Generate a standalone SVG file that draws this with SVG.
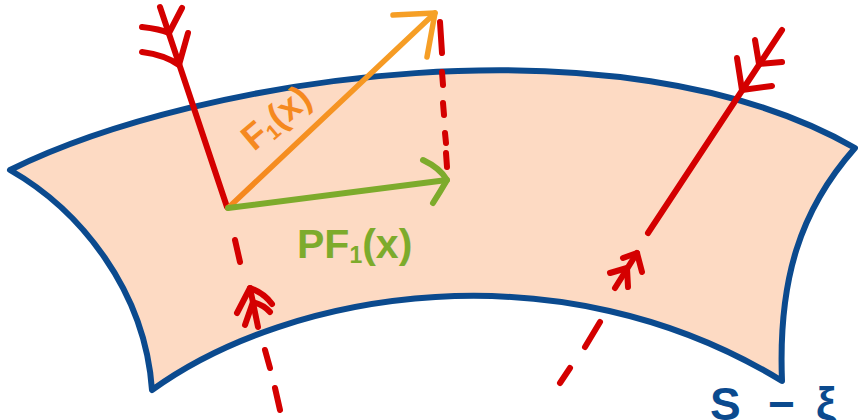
<svg xmlns="http://www.w3.org/2000/svg" width="858" height="420" viewBox="0 0 858 420">
  <defs>
    <linearGradient id="orangeGrad" x1="228" y1="208" x2="435" y2="13" gradientUnits="userSpaceOnUse">
      <stop offset="0" stop-color="#F5861E"/>
      <stop offset="1" stop-color="#F6A126"/>
    </linearGradient>
  </defs>
  <style>
    .red { fill: none; stroke: #D40000; stroke-width: 6; stroke-linecap: round; stroke-linejoin: round; }
    .green { fill: none; stroke: #7DAB2C; stroke-width: 6; stroke-linecap: round; stroke-linejoin: round; }
    .orange { fill: none; stroke: url(#orangeGrad); stroke-width: 5.5; stroke-linecap: round; stroke-linejoin: round; }
    .lbl { font-family: "Liberation Sans", Arial, sans-serif; font-weight: bold; }
  </style>

  <rect width="858" height="420" fill="#FFFFFF"/>

  <g id="surface">
    <path d="M10,170 C200,76 620,13 855,148 C800,210 778,280 782,381 C560,245 290,290 152,390 C145,290 80,210 10,170 Z"
          fill="#FDDAC3" stroke="#0B4A8E" stroke-width="6" stroke-linejoin="round"/>
  </g>

  <g id="ray-left">
    <path class="red" d="M227,207 L160,7"/>
    <path class="red" d="M142,52 Q165,55 179,65 L188,33"/>
    <path class="red" d="M142,27 Q160,29 169,33 L182,8"/>
    <path class="red" d="M235,240 L240,262"/>
    <path class="red" d="M250,288 L258,327"/>
    <path class="red" d="M237,313 L250,288 Q264,293 272,304"/>
    <path class="red" d="M245,325 L253,302 Q264,305 270,312"/>
    <path class="red" d="M265,350 L270,368"/>
    <path class="red" d="M275,388 L280,410"/>
  </g>

  <g id="ray-right">
    <path class="red" d="M648,233 L782,30"/>
    <path class="red" d="M737,58 L742,90 L772,86"/>
    <path class="red" d="M755,40 L759,64 L782,62"/>
    <path class="red" d="M615,288 L637,253"/>
    <path class="red" d="M623,258 L637,253 L642,272"/>
    <path class="red" d="M610,273 L627,268 L628,287"/>
    <path class="red" d="M600,322 L585,347"/>
    <path class="red" d="M570,368 L560,383"/>
  </g>

  <g id="projection-dashes">
    <path class="red" d="M440,22 L442,53"/>
    <path class="red" d="M442,72 L443,85"/>
    <path class="red" d="M443,103 L444,115"/>
    <path class="red" d="M445,133 L446,143"/>
    <path class="red" d="M446,153 L447,167"/>
  </g>

  <g id="vector-F">
    <path class="orange" d="M228,208 L435,13"/>
    <path class="orange" d="M393,15 L435,13 L427,57"/>
  </g>

  <g id="vector-PF">
    <path class="green" d="M228,208 L447,180"/>
    <path class="green" d="M423,160 Q440,168 447,180 Q440,192 433,203"/>
  </g>

  <g id="labels">
    <text class="lbl" fill="#F5891F" font-size="36" transform="translate(254,152) rotate(-40)">F<tspan font-size="21" dy="4">1</tspan><tspan dy="-4">(x)</tspan></text>
    <text class="lbl" fill="#7DAB2C" font-size="41" x="297" y="258">PF<tspan font-size="23" dy="5">1</tspan><tspan dy="-5">(x)</tspan></text>
    <text class="lbl" fill="#0B4A8E" font-size="46" x="710 768 816" y="420">S−ξ</text>
  </g>
</svg>
